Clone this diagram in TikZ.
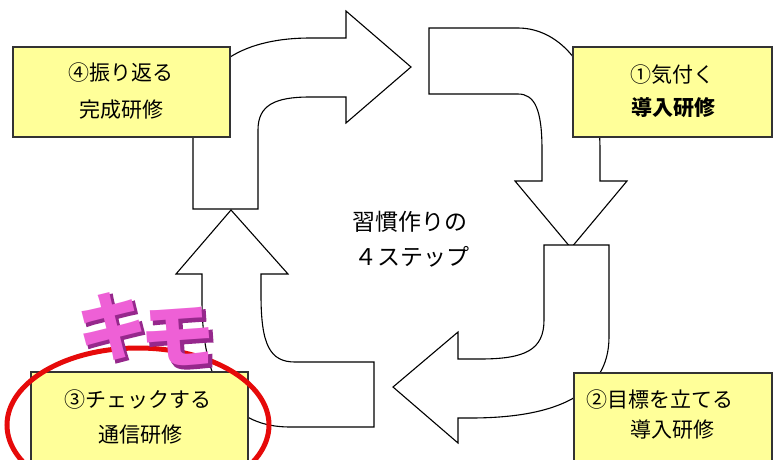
\documentclass[tikz,border=0pt]{standalone}
\usepackage{fontspec}
\newfontfamily\jp{Noto Sans CJK JP}
\newfontfamily\jpfat[FakeBold=2.5]{Noto Sans CJK JP}
\definecolor{boxyellow}{RGB}{255,255,153}
\definecolor{ringred}{RGB}{230,10,10}
\definecolor{kimopink}{RGB}{238,96,214}
\definecolor{kimoside}{RGB}{150,40,140}
\begin{document}
\begin{tikzpicture}[x=1pt,y=-1pt]
\tikzset{
  arr/.style={draw=black, fill=white, line width=1.1pt, line join=miter},
  box/.style={draw=black!80, fill=boxyellow, line width=1.3pt, rectangle, inner sep=0pt},
  lbl/.style={font=\jp\fontsize{21}{21}\selectfont, inner sep=0pt, anchor=center},
  ctr/.style={font=\jp\fontsize{23}{23}\selectfont, inner sep=0pt, anchor=center},
  kimo/.style={font=\jp\bfseries\fontsize{76}{76}\selectfont, inner sep=0pt, anchor=center},
  kimoshadow/.style={font=\jpfat\bfseries\fontsize{76}{76}\selectfont, inner sep=0pt, anchor=center, text=kimoside},
}
\useasboundingbox (0,0) rectangle (782,459);
\clip (0,0) rectangle (782,459);
\fill[white] (0,0) rectangle (782,459);

% arrow 4 -> 1
\draw[arr] (193,209) -- (193,130) .. controls (193,60) and (250,38) .. (310,38)
  -- (346,38) -- (346,11) -- (411,67) -- (346,123) -- (346,97) -- (310,97)
  .. controls (275,97) and (258,105) .. (258,130) -- (258,209) -- cycle;
% arrow 1 -> 2
\draw[arr] (429,28) -- (518,28) .. controls (560,28) and (600,70) .. (600,150)
  -- (600,181) -- (627,181) -- (571,248) -- (515,181) -- (542,181) -- (542,150)
  .. controls (542,110) and (535,94) .. (518,94) -- (429,94) -- cycle;
% arrow 2 -> 3
\draw[arr] (544,245) -- (609,245) -- (609,337) .. controls (609,395) and (555,418) .. (470,418)
  -- (458,418) -- (458,443) -- (393,387) -- (458,332) -- (458,359) -- (480,359)
  .. controls (525,359) and (544,350) .. (544,320) -- cycle;
% arrow 3 -> 4
\draw[arr] (374,362) -- (374,427) -- (290,427) .. controls (235,427) and (202,390) .. (202,300)
  -- (202,274) -- (176,274) -- (231,210) -- (288,274) -- (261,274) -- (261,295)
  .. controls (261,345) and (270,362) .. (295,362) -- cycle;

% boxes
\node[box, minimum width=217pt, minimum height=90pt] (b4) at (121.5,92) {};
\node[box, minimum width=199pt, minimum height=90pt] (b1) at (672.5,92) {};
\node[box, minimum width=198pt, minimum height=107pt] (b2) at (673,426.5) {};
\node[box, minimum width=217pt, minimum height=108pt] (b3) at (139.5,426) {};

% box texts
\node[lbl] (t4a) at (121,73) {④振り返る};
\node[lbl] (t4b) at (121,110) {完成研修};
\node[lbl] (t1a) at (672,75) {①気付く};
\node[lbl, font=\jp\bfseries\fontsize{21}{21}\selectfont] (t1b) at (673,108) {導入研修};
\node[lbl] (t2a) at (660,400) {②目標を立てる};
\node[lbl] (t2b) at (672,430) {導入研修};
\node[lbl] (t3a) at (138,400) {③チェックする};
\node[lbl] (t3b) at (140,435) {通信研修};

% centre text
\node[ctr] (c1) at (410,222) {習慣作りの};
\node[ctr] (c2) at (412,257) {４ステップ};

% red ring
\draw[ringred, line width=5pt] (138,425) ellipse [x radius=131, y radius=77];

% kimo (extruded look)
\node[kimoshadow, rotate=4, xscale=0.92] (kis) at (114.5,328.5) {キ};
\node[kimoshadow, rotate=4, yscale=0.95] (mos) at (180.5,340.5) {モ};
\node[kimo, text=kimopink, rotate=4, xscale=0.92] (ki) at (112,326) {キ};
\node[kimo, text=kimopink, rotate=4, yscale=0.95] (mo) at (178,338) {モ};
\end{tikzpicture}
\end{document}
